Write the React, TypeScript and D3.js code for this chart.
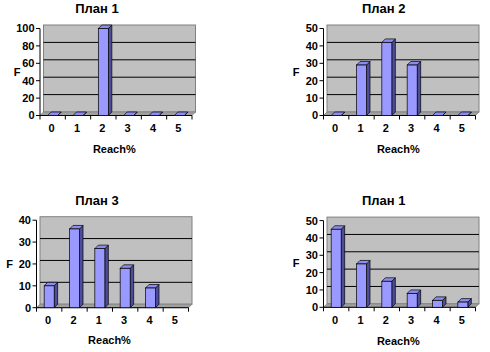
import React, { useEffect, useRef } from 'react';
import * as d3 from 'd3';

// data
const reachCategories = ['0', '1', '2', '3', '4', '5'];
const plan3Categories = ['0', '2', '1', '3', '4', '5'];
const plan1Values = [0, 0, 100, 0, 0, 0];
const plan2Values = [0, 29, 42, 29, 0, 0];
const plan3Values = [10, 36, 27, 18, 9, null];
const plan1bValues = [45, 25, 15, 8, 4, 3];
const ticks100 = [0, 20, 40, 60, 80, 100];
const ticks50 = [0, 10, 20, 30, 40, 50];
const ticks40 = [0, 10, 20, 30, 40];

const panels = [
  { title: 'План 1', cats: reachCategories, values: plan1Values, ticks: ticks100, x0: 40, y0: 115.5, h: 87, tx: 97, ty: 8.5, fx: 17, fy: 71.7, rx: 114.3, ry: 149 },
  { title: 'План 2', cats: reachCategories, values: plan2Values, ticks: ticks50, x0: 323.5, y0: 115.5, h: 87, tx: 383.7, ty: 8.5, fx: 296, fy: 71.7, rx: 398.3, ry: 149 },
  { title: 'План 3', cats: plan3Categories, values: plan3Values, ticks: ticks40, x0: 36.5, y0: 307.7, h: 87.5, tx: 97, ty: 200.7, fx: 9.5, fy: 264, rx: 109.5, ry: 340 },
  { title: 'План 1', cats: reachCategories, values: plan1bValues, ticks: ticks50, x0: 323.5, y0: 307.3, h: 86.7, tx: 383.7, ty: 200.5, fx: 296, fy: 263.3, rx: 398.3, ry: 340.7 },
];

const W = 152;
const depth = 3.5;
const barW = 10;
const font = "Arial, 'Liberation Sans', sans-serif";

export default function App() {
  const ref = useRef(null);

  useEffect(() => {
    const svg = d3.select(ref.current);
    svg.selectAll('*').remove();

    panels.forEach(p => {
      const g = svg.append('g');
      const x = d3.scaleBand().domain(p.cats).range([p.x0, p.x0 + W]);
      const y = d3
        .scaleLinear()
        .domain([0, d3.max(p.ticks)])
        .range([p.y0, p.y0 - p.h]);
      const yTop = y(d3.max(p.ticks));

      // back wall
      g.append('rect')
        .attr('x', p.x0 + depth)
        .attr('y', yTop - depth)
        .attr('width', W)
        .attr('height', p.h)
        .attr('fill', '#c0c0c0')
        .attr('stroke', '#808080')
        .attr('stroke-width', 1);

      // floor
      g.append('path')
        .attr(
          'd',
          `M${p.x0},${p.y0}L${p.x0 + W},${p.y0}L${p.x0 + W + depth},${p.y0 - depth}L${p.x0 + depth},${p.y0 - depth}Z`
        )
        .attr('fill', '#a0a0a0')
        .attr('stroke', '#808080')
        .attr('stroke-width', 0.8);

      // gridlines on the wall
      g.selectAll('.grid')
        .data(p.ticks.slice(1, -1))
        .enter()
        .append('line')
        .attr('x1', p.x0 + depth)
        .attr('x2', p.x0 + W + depth)
        .attr('y1', d => y(d) - depth)
        .attr('y2', d => y(d) - depth)
        .attr('stroke', '#000')
        .attr('stroke-width', 1);

      // value axis
      g.append('line')
        .attr('x1', p.x0)
        .attr('x2', p.x0)
        .attr('y1', p.y0)
        .attr('y2', yTop)
        .attr('stroke', '#000');
      g.selectAll('.ytick')
        .data(p.ticks)
        .enter()
        .append('line')
        .attr('x1', p.x0 - 4)
        .attr('x2', p.x0)
        .attr('y1', d => y(d))
        .attr('y2', d => y(d))
        .attr('stroke', '#000');
      g.selectAll('.ylab')
        .data(p.ticks)
        .enter()
        .append('text')
        .attr('x', p.x0 - 5.5)
        .attr('y', d => y(d))
        .attr('dy', '0.36em')
        .attr('text-anchor', 'end')
        .attr('font-family', font)
        .attr('font-weight', 'bold')
        .attr('font-size', 11)
        .text(d => d);

      // category axis
      g.append('line')
        .attr('x1', p.x0)
        .attr('x2', p.x0 + W)
        .attr('y1', p.y0)
        .attr('y2', p.y0)
        .attr('stroke', '#000');
      g.selectAll('.xtick')
        .data(d3.range(p.cats.length + 1))
        .enter()
        .append('line')
        .attr('x1', i => p.x0 + i * x.step())
        .attr('x2', i => p.x0 + i * x.step())
        .attr('y1', p.y0)
        .attr('y2', p.y0 + 4)
        .attr('stroke', '#000');
      g.selectAll('.xlab')
        .data(p.cats)
        .enter()
        .append('text')
        .attr('x', d => x(d) + x.bandwidth() / 2 - 1)
        .attr('y', p.y0 + 12.8)
        .attr('dy', '0.36em')
        .attr('text-anchor', 'middle')
        .attr('font-family', font)
        .attr('font-weight', 'bold')
        .attr('font-size', 11)
        .text(d => d);

      // 3d columns
      const bars = p.cats
        .map((c, i) => ({ c, v: p.values[i] }))
        .filter(d => d.v !== null);
      const bar = g
        .selectAll('.bar')
        .data(bars)
        .enter()
        .append('g');
      const bx = d => x(d.c) + x.bandwidth() / 2 - barW / 2;
      bar
        .append('path')
        .attr('d', d => {
          const l = bx(d);
          const t = y(d.v);
          return `M${l + barW},${p.y0}L${l + barW + depth},${p.y0 - depth}L${l + barW + depth},${t - depth}L${l + barW},${t}Z`;
        })
        .attr('fill', '#4d4d99')
        .attr('stroke', '#000')
        .attr('stroke-width', 0.7);
      bar
        .append('path')
        .attr('d', d => {
          const l = bx(d);
          const t = y(d.v);
          return `M${l},${t}L${l + depth},${t - depth}L${l + barW + depth},${t - depth}L${l + barW},${t}Z`;
        })
        .attr('fill', '#8c8cf0')
        .attr('stroke', '#000')
        .attr('stroke-width', 0.7);
      bar
        .filter(d => d.v > 0)
        .append('rect')
        .attr('x', d => bx(d))
        .attr('y', d => y(d.v))
        .attr('width', barW)
        .attr('height', d => p.y0 - y(d.v))
        .attr('fill', '#9999ff')
        .attr('stroke', '#000')
        .attr('stroke-width', 0.7);

      // titles
      g.append('text')
        .attr('x', p.tx)
        .attr('y', p.ty)
        .attr('dy', '0.36em')
        .attr('text-anchor', 'middle')
        .attr('font-family', font)
        .attr('font-weight', 'bold')
        .attr('font-size', 13)
        .text(p.title);
      g.append('text')
        .attr('x', p.fx)
        .attr('y', p.fy)
        .attr('dy', '0.36em')
        .attr('text-anchor', 'middle')
        .attr('font-family', font)
        .attr('font-weight', 'bold')
        .attr('font-size', 11)
        .text('F');
      g.append('text')
        .attr('x', p.rx)
        .attr('y', p.ry)
        .attr('dy', '0.36em')
        .attr('text-anchor', 'middle')
        .attr('font-family', font)
        .attr('font-weight', 'bold')
        .attr('font-size', 11)
        .text('Reach%');
    });
  }, []);

  return (
    <svg
      ref={ref}
      width={490}
      height={352}
      style={{ position: 'absolute', left: 0, top: 0, background: '#fff' }}
    />
  );
}
